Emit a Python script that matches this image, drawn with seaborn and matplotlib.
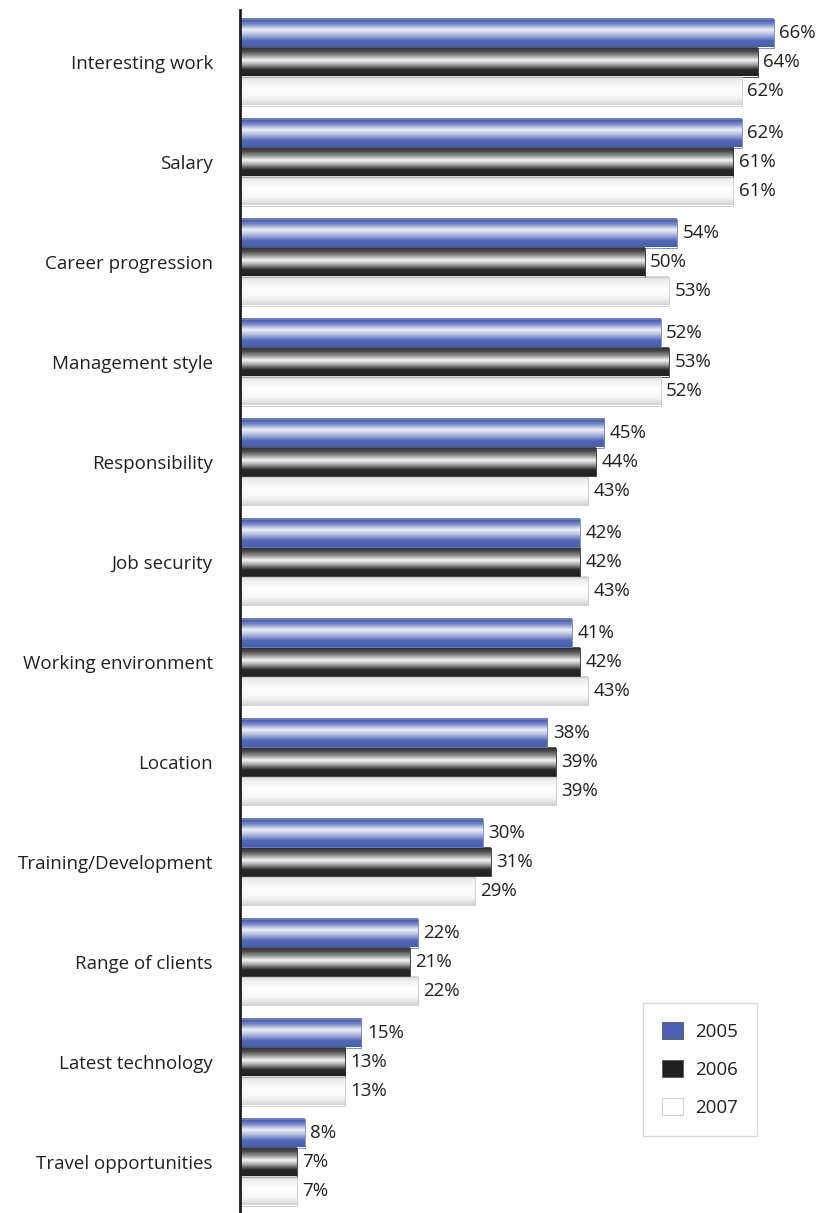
import numpy as np
import pandas as pd
import seaborn as sns
import matplotlib.pyplot as plt
from matplotlib.colors import LinearSegmentedColormap
from matplotlib.patches import Patch

categories = ["Interesting work", "Salary", "Career progression", "Management style",
              "Responsibility", "Job security", "Working environment", "Location",
              "Training/Development", "Range of clients", "Latest technology",
              "Travel opportunities"]
years = ["2005", "2006", "2007"]
v2005 = [66, 62, 54, 52, 45, 42, 41, 38, 30, 22, 15, 8]
v2006 = [64, 61, 50, 53, 44, 42, 42, 39, 31, 21, 13, 7]
v2007 = [62, 61, 53, 52, 43, 43, 43, 39, 29, 22, 13, 7]

df = pd.DataFrame({
    "category": categories * 3,
    "year": sum([[y] * len(categories) for y in years], []),
    "value": v2005 + v2006 + v2007,
})

sns.set_theme(style="white")
plt.rcParams["font.family"] = ["Open Sans", "DejaVu Sans"]
text_color = "#231f20"
fs = 13.5

fig = plt.figure(figsize=(8.21, 12.13), dpi=100)
ax = fig.add_axes([240 / 821, 0, 581 / 821, 1203 / 1213])

solid = {"2005": "#4a62b0", "2006": "#231f20", "2007": "#ffffff"}
sns.barplot(data=df, y="category", x="value", hue="year", order=categories,
            hue_order=years, palette=solid, orient="h", width=0.87,
            dodge=True, ax=ax, legend=False, linewidth=0)

# vertical shading for each series (top -> bottom of a bar)
shades = {
    "2005": [(0.0, "#7585c6"), (0.08, "#4a5fae"), (0.22, "#7f8fcc"), (0.40, "#eef0f9"),
             (0.55, "#b9c2e4"), (0.78, "#5368b4"), (1.0, "#4360b0")],
    "2006": [(0.0, "#5c5c5c"), (0.10, "#3a3a3a"), (0.28, "#8a8a8a"), (0.45, "#f4f4f4"),
             (0.60, "#a8a8a8"), (0.78, "#2a2a2a"), (1.0, "#231f20")],
    "2007": [(0.0, "#d4d4d4"), (0.15, "#efefef"), (0.45, "#ffffff"), (0.75, "#f6f6f6"),
             (1.0, "#d2d2d2")],
}
edges = {"2005": "#7080c2", "2006": "#2a2a2a", "2007": "#c8c8c8"}
grad = np.linspace(0, 1, 256).reshape(-1, 1)

xmax = 581 / 8.09
ax.set_xlim(0, xmax)
ax.set_ylim(11.51, -0.52)

for year, cont in zip(years, ax.containers):
    cmap = LinearSegmentedColormap.from_list(year, shades[year])
    for bar in cont:
        x0, y0 = bar.get_x(), bar.get_y()
        w, h = bar.get_width(), bar.get_height()
        ax.imshow(grad, cmap=cmap, aspect="auto", origin="upper",
                  extent=[x0, x0 + w, y0 + h, y0], zorder=2, interpolation="bilinear")
        bar.set_facecolor("none")
        bar.set_edgecolor(edges[year])
        bar.set_linewidth(0.6)
        bar.set_zorder(3)
    ax.bar_label(cont, labels=[f"{int(b.get_width())}%" for b in cont], padding=4,
                 fontsize=fs, color=text_color)

ax.set_xlim(0, xmax)
ax.set_ylim(11.51, -0.52)
ax.set_xlabel("")
ax.set_ylabel("")
ax.set_xticks([])
ax.tick_params(axis="y", length=0, pad=19.5, labelsize=fs, labelcolor=text_color)
for s in ["top", "right", "bottom"]:
    ax.spines[s].set_visible(False)
ax.spines["left"].set_color(text_color)
ax.spines["left"].set_linewidth(2)
ax.spines["left"].set_zorder(5)

handles = [Patch(facecolor=solid[y], edgecolor="#c8c8c8" if y == "2007" else "#555555",
                 linewidth=0.6, label=y) for y in years]
leg = fig.legend(handles=handles, loc="upper left", bbox_to_anchor=(643 / 821, 1 - 1003 / 1213),
                 bbox_transform=fig.transFigure, frameon=True, fancybox=False, fontsize=fs,
                 handlelength=1.12, handleheight=1.07, labelspacing=1.0, borderpad=1.0,
                 handletextpad=0.65, borderaxespad=0)
leg.get_frame().set_edgecolor("#cfcfcf")
leg.get_frame().set_linewidth(1)
for t in leg.get_texts():
    t.set_color(text_color)

fig.savefig("out.png", dpi=100)
